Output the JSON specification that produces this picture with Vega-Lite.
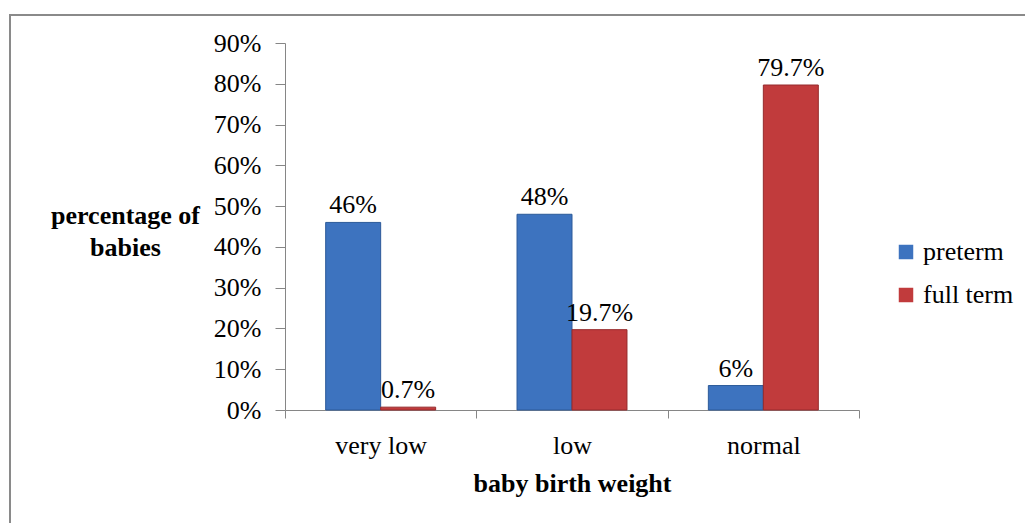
{
  "$schema": "https://vega.github.io/schema/vega-lite/v6.json",
  "width": 1035,
  "height": 528,
  "autosize": {"type": "none"},
  "padding": {"left": 10, "top": 15, "right": -20, "bottom": -20},
  "background": "white",
  "config": {
    "view": {"stroke": "#8a8a8a", "strokeWidth": 2},
    "font": "Times New Roman, Liberation Serif, serif",
    "text": {"font": "Times New Roman, Liberation Serif, serif"},
    "axis": {"labelFont": "Times New Roman, Liberation Serif, serif", "titleFont": "Times New Roman, Liberation Serif, serif"},
    "legend": {"labelFont": "Times New Roman, Liberation Serif, serif"}
  },
  "data": {
    "values": [
      {"weight": "very low", "term": "preterm", "value": 0.46},
      {"weight": "very low", "term": "full term", "value": 0.007},
      {"weight": "low", "term": "preterm", "value": 0.48},
      {"weight": "low", "term": "full term", "value": 0.197},
      {"weight": "normal", "term": "preterm", "value": 0.06},
      {"weight": "normal", "term": "full term", "value": 0.797}
    ]
  },
  "encoding": {
    "x": {
      "field": "weight",
      "type": "nominal",
      "sort": ["very low", "low", "normal"],
      "scale": {"range": [275, 849], "paddingInner": 0, "paddingOuter": 0},
      "axis": {
        "orient": "bottom",
        "offset": -133,
        "tickBand": "extent",
        "tickSize": 8,
        "tickColor": "#868686",
        "domainColor": "#868686",
        "labelAngle": 0,
        "labelFontSize": 26,
        "labelBaseline": "middle",
        "labelPadding": 27,
        "labelColor": "black",
        "title": "baby birth weight",
        "titleFontSize": 26,
        "titleFontWeight": "bold",
        "titleColor": "black",
        "titleX": 562,
        "titleY": 73,
        "titleAlign": "center",
        "titleBaseline": "middle"
      }
    },
    "xOffset": {
      "field": "term",
      "type": "nominal",
      "sort": ["preterm", "full term"],
      "scale": {"paddingInner": 0, "paddingOuter": 0.74}
    },
    "y": {
      "field": "value",
      "type": "quantitative",
      "scale": {"domain": [0, 0.9], "range": [395, 28], "nice": false},
      "axis": {
        "orient": "left",
        "offset": -275,
        "values": [0, 0.1, 0.2, 0.3, 0.4, 0.5, 0.6, 0.7, 0.8, 0.9],
        "format": ".0%",
        "grid": false,
        "domainColor": "#868686",
        "tickColor": "#868686",
        "tickSize": 10,
        "labelPadding": 14,
        "labelFontSize": 26,
        "labelColor": "black",
        "title": ["percentage of", "babies"],
        "titleFontSize": 26,
        "titleFontWeight": "bold",
        "titleColor": "black",
        "titleAngle": 0,
        "titleX": -160,
        "titleY": 200,
        "titleAlign": "center",
        "titleBaseline": "middle",
        "titleLineHeight": 32
      }
    }
  },
  "layer": [
    {
      "mark": {"type": "bar", "stroke": {"expr": "datum.term === 'preterm' ? '#2c5a99' : '#962b2c'"}, "strokeWidth": 1},
      "encoding": {
        "color": {
          "field": "term",
          "type": "nominal",
          "sort": ["preterm", "full term"],
          "scale": {"domain": ["preterm", "full term"], "range": ["#3d73bf", "#c13b3c"]},
          "legend": {
            "orient": "none",
            "legendX": 883,
            "legendY": 224,
            "title": null,
            "symbolType": "square",
            "symbolSize": 210,
            "symbolStrokeWidth": 0,
            "labelFontSize": 26,
            "labelColor": "black",
            "labelOffset": 4,
            "rowPadding": 17
          }
        }
      }
    },
    {
      "mark": {"type": "text", "dy": -9, "fontSize": 26, "baseline": "alphabetic", "align": "center", "color": "black"},
      "encoding": {
        "text": {"field": "value", "type": "quantitative", "format": ".1~%"}
      }
    }
  ]
}
